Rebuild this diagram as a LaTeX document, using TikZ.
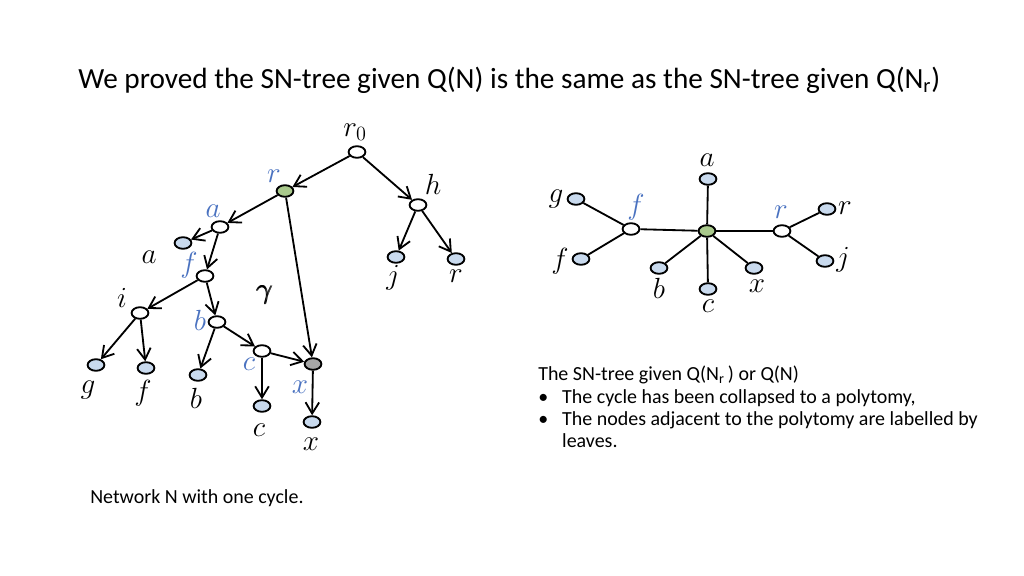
\documentclass[tikz,border=0pt]{standalone}
\usepackage{amsmath,amssymb}
\usepackage{fontspec}
\setmainfont{Carlito}
\usetikzlibrary{shapes.geometric,arrows.meta}
\definecolor{leafc}{HTML}{C9DAEE}
\definecolor{greenc}{HTML}{A9C98C}
\definecolor{greyc}{HTML}{A6A6A6}
\definecolor{bluel}{HTML}{4A72C0}
\tikzset{
 vtx/.style={ellipse,draw,line width=1.3pt,minimum width=0.42cm,minimum height=0.29cm,inner sep=0pt},
 leafv/.style={vtx,fill=leafc},
 intv/.style={vtx,fill=white},
 rootv/.style={vtx,fill=greenc},
 retv/.style={vtx,fill=greyc},
 arr/.style={line width=1.3pt,-{Straight Barb[length=2.8mm,width=3.4mm]}},
 ln/.style={line width=1.3pt},
 lbl/.style={font=\fontsize{20}{22}\selectfont,inner sep=0pt},
 blbl/.style={lbl,text=bluel},
}
\begin{document}
\begin{tikzpicture}[x=0.025cm,y=-0.025cm]
\useasboundingbox (0,0) rectangle (1024,576);
% title
\node[anchor=west,inner sep=0pt,font=\fontsize{20.8}{24}\selectfont] (title) at (78,80) {We proved the SN-tree given Q(N) is the same as the SN-tree given Q(N\textsubscript{r})};
% left network
\node[intv] (r0) at (357,152) {};
\node[rootv] (r) at (285,191) {};
\node[intv] (h) at (418,205) {};
\node[intv] (a) at (220,227) {};
\node[leafv] (la) at (183,243) {};
\node[intv] (f) at (205,276) {};
\node[intv] (i) at (140,313) {};
\node[intv] (b) at (217,322) {};
\node[intv] (c) at (262,351) {};
\node[retv] (x) at (313,364) {};
\node[leafv] (lj) at (396,257) {};
\node[leafv] (lr) at (456,259) {};
\node[leafv] (lg) at (96,365) {};
\node[leafv] (lf) at (146,368) {};
\node[leafv] (lb) at (198,375) {};
\node[leafv] (lc) at (262,406) {};
\node[leafv] (lx) at (312,422) {};
\draw[arr] (r0) -- (r);
\draw[arr] (r0) -- (h);
\draw[arr] (h) -- (lj);
\draw[arr] (h) -- (lr);
\draw[arr] (r) -- (a);
\draw[arr] (r) -- (x);
\draw[arr] (a) -- (la);
\draw[arr] (a) -- (f);
\draw[arr] (f) -- (i);
\draw[arr] (f) -- (b);
\draw[arr] (i) -- (lg);
\draw[arr] (i) -- (lf);
\draw[arr] (b) -- (lb);
\draw[arr] (b) -- (c);
\draw[arr] (c) -- (lc);
\draw[arr] (c) -- (x);
\draw[arr] (x) -- (lx);
\node[lbl] (tr0) at (355,132) {$r_0$};
\node[blbl] (tr) at (274,176) {$r$};
\node[lbl] (th) at (433,184) {$h$};
\node[blbl] (ta) at (213,211) {$a$};
\node[lbl] (tla) at (149,257) {$a$};
\node[blbl] (tf) at (189,265) {$f$};
\node[lbl] (ti) at (122,298) {$i$};
\node[lbl] (tgam) at (265,295) {$\pmb{\gamma}$};
\node[blbl] (tb) at (200,320) {$b$};
\node[blbl] (tc) at (249,364) {$c$};
\node[blbl] (tx) at (300,387) {$x$};
\node[lbl] (tj) at (393,278) {$j$};
\node[lbl] (tlr) at (456,276) {$r$};
\node[lbl] (tg) at (88,390) {$g$};
\node[lbl] (tlf) at (143,393) {$f$};
\node[lbl] (tlb) at (196,398) {$b$};
\node[lbl] (tlc) at (259,430) {$c$};
\node[lbl] (tlx) at (311,444) {$x$};
\node[anchor=west,inner sep=0pt,font=\fontsize{14.2}{16}\selectfont] (cap) at (90,498) {Network N with one cycle.};
% right tree
\node[rootv] (C) at (707,231) {};
\node[intv] (F) at (631,229) {};
\node[intv] (R) at (782,231) {};
\node[leafv] (A2) at (708,179) {};
\node[leafv] (G2) at (576,199) {};
\node[leafv] (F2) at (581,259) {};
\node[leafv] (B2) at (659,268) {};
\node[leafv] (C2) at (708,289) {};
\node[leafv] (X2) at (754,268) {};
\node[leafv] (R2) at (827,209) {};
\node[leafv] (J2) at (825,261) {};
\draw[ln] (C) -- (F);
\draw[ln] (C) -- (R);
\draw[ln] (C) -- (A2);
\draw[ln] (C) -- (B2);
\draw[ln] (C) -- (C2);
\draw[ln] (C) -- (X2);
\draw[ln] (F) -- (G2);
\draw[ln] (F) -- (F2);
\draw[ln] (R) -- (R2);
\draw[ln] (R) -- (J2);
\node[lbl] (tA) at (707,160) {$a$};
\node[lbl] (tG) at (556,199) {$g$};
\node[blbl] (tF) at (636,207) {$f$};
\node[lbl] (tF2) at (560,261) {$f$};
\node[lbl] (tB) at (659,288) {$b$};
\node[lbl] (tC) at (708,306) {$c$};
\node[lbl] (tX) at (757,286) {$x$};
\node[blbl] (tR) at (781,212) {$r$};
\node[lbl] (tR2) at (845,208) {$r$};
\node[lbl] (tJ) at (843,260) {$j$};
% right text
\node[anchor=north west,inner sep=0pt,font=\fontsize{14.2}{15.8}\selectfont,align=left] (desc) at (538,366) {The SN-tree given Q(N\textsubscript{r}\,) or Q(N)\\
\makebox[17pt][l]{•}The cycle has been collapsed to a polytomy,\\
\makebox[17pt][l]{•}The nodes adjacent to the polytomy are labelled by\\
\hspace*{17pt}leaves.};
\end{tikzpicture}
\end{document}
